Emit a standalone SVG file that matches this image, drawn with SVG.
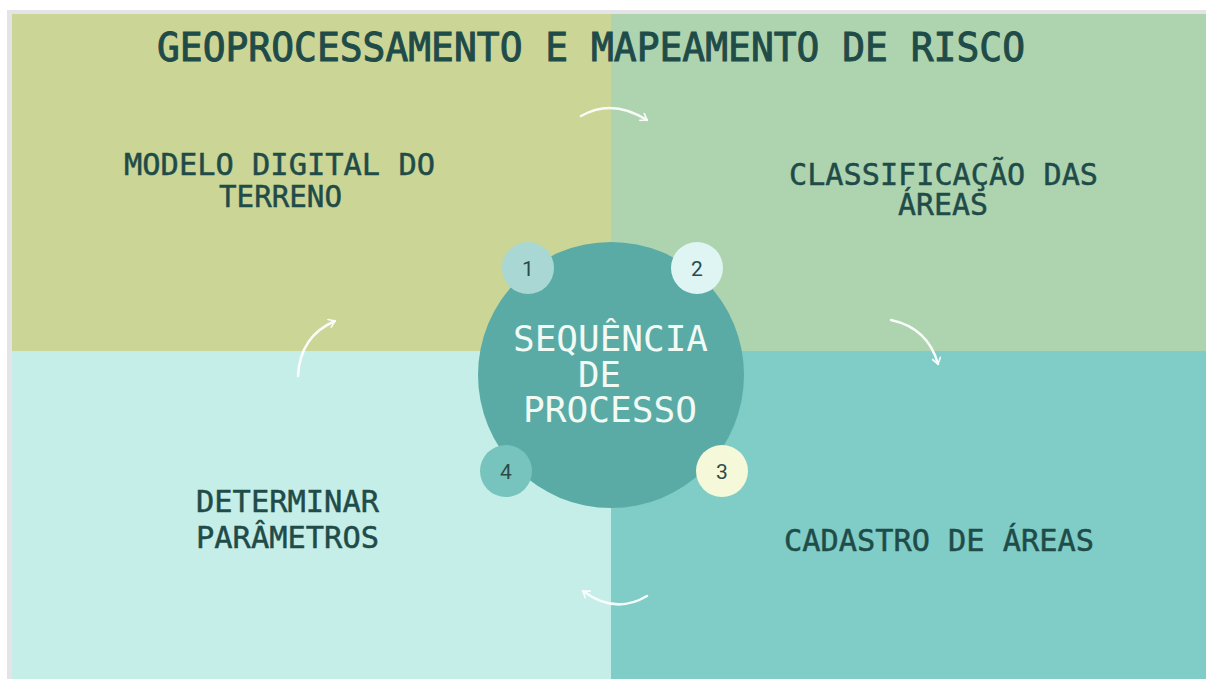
<svg xmlns="http://www.w3.org/2000/svg" width="1206" height="679" viewBox="0 0 1206 679">
<style>
.lbl{font-family:"DejaVu Sans Mono","Liberation Mono",monospace;font-size:31px;fill:#1f4b48;stroke:#1f4b48;stroke-width:0.5;}
.title{font-family:"DejaVu Sans Mono","Liberation Mono",monospace;font-size:39px;fill:#1f4b48;stroke:#1f4b48;stroke-width:1;}
.ctr{font-family:"DejaVu Sans Mono","Liberation Mono",monospace;font-size:35px;fill:#f2faf4;}
.num{font-family:"Roboto","Liberation Sans",sans-serif;font-size:21px;fill:#2c4a4a;text-anchor:middle;}
.arr{fill:none;stroke:#ffffff;stroke-width:2.5;stroke-linecap:round;opacity:0.92;marker-end:url(#ah);}
</style>
<defs>
<marker id="ah" viewBox="0 0 12 12" refX="9" refY="6" markerWidth="4" markerHeight="4" orient="auto" markerUnits="strokeWidth">
<path d="M2,1 L9,6 L2,11" fill="none" stroke="#ffffff" stroke-width="2" stroke-linecap="round" stroke-linejoin="round"/>
</marker>
</defs>
<rect x="0" y="0" width="1206" height="679" fill="#ffffff"/>
<rect x="7" y="10" width="1199" height="669" fill="#e4e4e8"/>
<g id="quadrants">
<rect x="12" y="14" width="599" height="337" fill="#cbd596"/>
<rect x="611" y="14" width="595" height="337" fill="#aed4af"/>
<rect x="12" y="351" width="599" height="328" fill="#c6eee9"/>
<rect x="611" y="351" width="595" height="328" fill="#7fcdc6"/>
</g>
<text id="title" class="title" x="157" y="61" textLength="868" lengthAdjust="spacingAndGlyphs">GEOPROCESSAMENTO E MAPEAMENTO DE RISCO</text>
<g id="connectors">
<path class="arr" d="M581,116 Q612,98 647,120"/>
<path class="arr" d="M891,320 Q928,328 938,364"/>
<path class="arr" d="M647,596 Q615,615 583,591"/>
<path class="arr" d="M298,376 Q300,336 335,321"/>
</g>
<g id="node-center">
<circle cx="611" cy="375" r="133" fill="#5aaba6"/>
<text class="ctr" x="513" y="351" textLength="195" lengthAdjust="spacingAndGlyphs">SEQUÊNCIA</text>
<text class="ctr" x="578" y="387" textLength="43" lengthAdjust="spacingAndGlyphs">DE</text>
<text class="ctr" x="523" y="422" textLength="174" lengthAdjust="spacingAndGlyphs">PROCESSO</text>
</g>
<g id="badge-1"><circle cx="528" cy="268" r="26" fill="#a9d8d4"/><text class="num" x="528" y="276">1</text></g>
<g id="badge-2"><circle cx="697" cy="268" r="26" fill="#dff5f3"/><text class="num" x="697" y="276">2</text></g>
<g id="badge-3"><circle cx="722" cy="471" r="26" fill="#f5f8d9"/><text class="num" x="722" y="479">3</text></g>
<g id="badge-4"><circle cx="506" cy="471" r="26" fill="#76c4bd"/><text class="num" x="506" y="479">4</text></g>
<g id="node-1">
<text class="lbl" x="124" y="175" textLength="311" lengthAdjust="spacingAndGlyphs">MODELO DIGITAL DO</text>
<text class="lbl" x="219" y="207" textLength="123" lengthAdjust="spacingAndGlyphs">TERRENO</text>
</g>
<g id="node-2">
<text class="lbl" x="789" y="185" textLength="309" lengthAdjust="spacingAndGlyphs">CLASSIFICAÇÃO DAS</text>
<text class="lbl" x="898" y="215" textLength="90" lengthAdjust="spacingAndGlyphs">ÁREAS</text>
</g>
<g id="node-3">
<text class="lbl" x="784" y="551" textLength="310" lengthAdjust="spacingAndGlyphs">CADASTRO DE ÁREAS</text>
</g>
<g id="node-4">
<text class="lbl" x="196" y="512" textLength="183" lengthAdjust="spacingAndGlyphs">DETERMINAR</text>
<text class="lbl" x="196" y="548" textLength="183" lengthAdjust="spacingAndGlyphs">PARÂMETROS</text>
</g>
</svg>
